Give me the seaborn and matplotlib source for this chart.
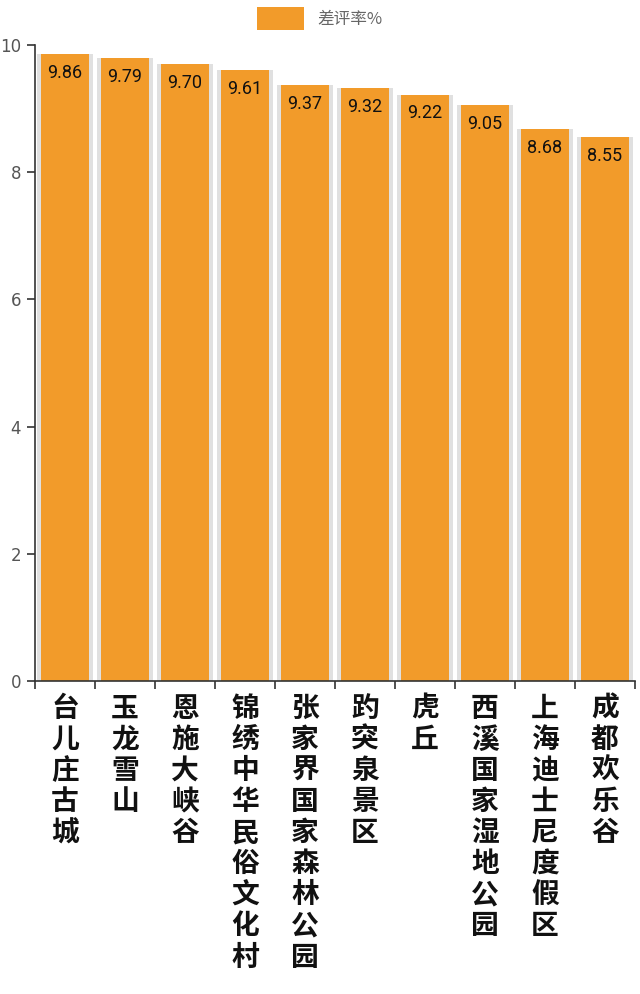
import matplotlib
matplotlib.use("Agg")
import matplotlib.pyplot as plt
import seaborn as sns
import pandas as pd
from matplotlib.patches import Patch

categories = ["台儿庄古城", "玉龙雪山", "恩施大峡谷", "锦绣中华民俗文化村", "张家界国家森林公园",
              "趵突泉景区", "虎丘", "西溪国家湿地公园", "上海迪士尼度假区", "成都欢乐谷"]
values = [9.86, 9.79, 9.70, 9.61, 9.37, 9.32, 9.22, 9.05, 8.68, 8.55]
series_name = "差评率%"
yticks = [0, 2, 4, 6, 8, 10]

sns.set_theme(style="white")
plt.rcParams['font.family'] = ['Noto Sans CJK SC', 'DejaVu Sans']

bar_color = "#F29B2A"
df = pd.DataFrame({"cat": categories, "val": values})

fig = plt.figure(figsize=(6.4, 9.94), dpi=100)
ax = fig.add_axes([35/640, 1 - 681/994, 600/640, (681 - 45)/994])

# soft shadow behind bars
sns.barplot(data=df, x="cat", y="val", color="#d4d4d4", width=0.92, saturation=1,
            ax=ax, zorder=1)
for p in ax.patches:
    p.set_alpha(0.7)
    p.set_linewidth(0)
n_shadow = len(ax.patches)
sns.barplot(data=df, x="cat", y="val", color=bar_color, width=0.8, saturation=1,
            ax=ax, zorder=2)
for p in ax.patches[n_shadow:]:
    p.set_linewidth(0)

for i, v in enumerate(values):
    ax.annotate(f"{v:.2f}", xy=(i, v), xytext=(0, -7), textcoords="offset points",
                ha="center", va="top", fontsize=13, color="#111111",
                family=['Roboto', 'DejaVu Sans'], zorder=3)

ax.set_xlim(-0.5, len(categories) - 0.5)
ax.set_ylim(0, 10)
ax.set_yticks(yticks)
ax.set_yticklabels([str(t) for t in yticks], fontsize=12, color="#555555",
                   family=['DejaVu Sans'])
ax.set_xlabel("")
ax.set_ylabel("")

# x ticks at category boundaries, labels at centers
ax.set_xticks([i - 0.5 for i in range(len(categories) + 1)])
ax.set_xticklabels([])
ax.set_xticks(range(len(categories)), minor=True)
ax.set_xticklabels(["\n".join(c) for c in categories], minor=True,
                   fontsize=20, fontweight="bold", color="#111111", va="top",
                   linespacing=1.14)
ax.tick_params(axis="x", which="minor", length=0, pad=10)
ax.tick_params(axis="x", which="major", length=6, width=1.2, color="#333333", direction="out",
               bottom=True)
ax.tick_params(axis="y", length=6, width=1.2, color="#333333", direction="out", left=True,
               pad=4)

for s in ["top", "right"]:
    ax.spines[s].set_visible(False)
for s in ["left", "bottom"]:
    ax.spines[s].set_color("#333333")
    ax.spines[s].set_linewidth(1.2)

fig.legend(handles=[Patch(facecolor=bar_color, edgecolor="none", label=series_name)],
           loc="upper center", bbox_to_anchor=(0.5, 1.008), frameon=False,
           handlelength=2.8, handleheight=1.7, fontsize=12, labelcolor="#666666")

fig.savefig("out.png", dpi=100)
